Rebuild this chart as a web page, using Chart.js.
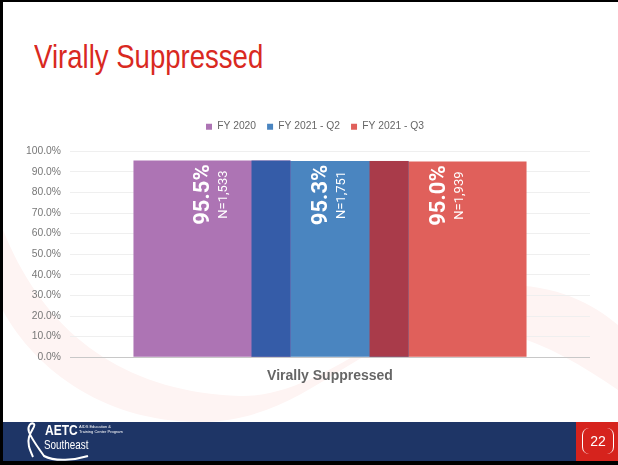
<!DOCTYPE html>
<html>
<head>
<meta charset="utf-8">
<script src="https://cdn.jsdelivr.net/npm/chart.js@4/dist/chart.umd.min.js"></script>
<style>
  html, body { margin: 0; padding: 0; }
  body { width: 618px; height: 465px; position: relative; overflow: hidden; background: #fff; font-family: "Liberation Sans", Arial, sans-serif; }
  .frame-top { position: absolute; left: 0; top: 0; width: 618px; height: 2px; background: #000; }
  .frame-left { position: absolute; left: 0; top: 0; width: 3px; height: 465px; background: #000; }
  .frame-bottom { position: absolute; left: 0; top: 461px; width: 618px; height: 4px; background: #000; }
  .swoosh { position: absolute; left: 0; top: 0; }
  .title { position: absolute; left: 34px; top: 38px; color: #d9291f; font-size: 33px; white-space: nowrap; transform: scaleX(0.835); transform-origin: 0 0; }
  #wrap { position: absolute; left: 0; top: 0; width: 618px; height: 465px; }
  .footer { position: absolute; left: 3px; top: 422px; width: 573px; height: 39px; background: #1e3566; }
  .page { position: absolute; left: 576px; top: 422px; width: 42px; height: 39px; background: #d6231d; }
  .page span { position: absolute; left: 6px; top: 6px; width: 30px; height: 26px; border: 1px solid #fff; border-top: none; border-bottom: none; border-radius: 7px; color: #fff; font-size: 14px; line-height: 26px; text-align: center; }
  .aetc { position: absolute; left: 45px; top: 421px; color: #fff; font-weight: bold; font-size: 15px; transform: scaleX(0.8); transform-origin: 0 0; }
  .small { position: absolute; left: 79px; top: 424px; color: #fff; font-size: 4px; line-height: 5px; }
  .southeast { position: absolute; left: 44px; top: 437px; color: #fff; font-size: 13px; transform: scaleX(0.76); transform-origin: 0 0; }
</style>
</head>
<body>
<svg class="swoosh" width="618" height="465">
  <path d="M0 222 C40 330 120 392 240 396 C330 398 420 292 500 286 C560 282 600 310 618 325 L618 390 C560 350 500 318 430 330 C350 345 300 422 200 422 C100 422 30 365 0 305 Z" fill="#fef4f3"/>
</svg>
<div class="title">Virally Suppressed</div>
<div id="wrap"><canvas id="chart" width="618" height="465"></canvas></div>
<div class="footer"></div>
<svg class="swoosh" width="618" height="465">
  <path d="M33 457 C30 450 27 444 29 437 C31 430 36 426 34 424 C31 422 27 426 29 432 C32 440 40 450 44 456 C55 462 75 460 88 456" stroke="#fff" stroke-width="2" fill="none"/>
</svg>
<div class="aetc">AETC</div>
<div class="small">AIDS Education &amp;<br>Training Center Program</div>
<div class="southeast">Southeast</div>
<div class="page"><span>22</span></div>
<div class="frame-top"></div>
<div class="frame-left"></div>
<div class="frame-bottom"></div>
<script>
const categories = ['Virally Suppressed'];
const seriesNames = ['FY 2020', 'FY 2021 - Q2', 'FY 2021 - Q3'];
const fy2020 = [95.5];
const fy2021q2 = [95.3];
const fy2021q3 = [95.0];
const counts = ['N=1,533', 'N=1,751', 'N=1,939'];

const barColors = ['#ad74b4', '#4a85c0', '#e0605b'];
const overlapColors = ['#355ca8', '#a93b4a'];

// let the y tick labels use the space left of the axis box (no clipping)
const axisRoomPlugin = {
    id: 'axisRoom',
    afterLayout(chart) {
        chart.scales.y.left = 15;
    }
};

// darker strip where two neighbouring bars overlap
const overlapPlugin = {
    id: 'overlap',
    afterDatasetsDraw(chart) {
        const ctx = chart.ctx;
        for (let i = 1; i < chart.data.datasets.length; i++) {
            const a = chart.getDatasetMeta(i - 1).data[0];
            const b = chart.getDatasetMeta(i).data[0];
            const left = b.x - b.width / 2;
            const right = a.x + a.width / 2;
            const top = Math.min(a.y, b.y);
            ctx.save();
            ctx.fillStyle = overlapColors[i - 1];
            ctx.fillRect(left, top, right - left, a.base - top);
            ctx.restore();
        }
    }
};

// rotated value labels inside each bar
const labelPlugin = {
    id: 'barLabels',
    afterDatasetsDraw(chart) {
        const ctx = chart.ctx;
        chart.data.datasets.forEach((ds, i) => {
            const bar = chart.getDatasetMeta(i).data[0];
            ctx.save();
            ctx.translate(bar.x, bar.y + 34);
            ctx.rotate(-Math.PI / 2);
            ctx.fillStyle = '#fff';
            ctx.textAlign = 'center';
            ctx.textBaseline = 'middle';
            ctx.font = 'bold 22px Roboto';
            ctx.fillText(ds.data[0].toFixed(1) + '%', 0, -8.5);
            ctx.font = '13px Roboto';
            ctx.fillText(counts[i], 0, 12);
            ctx.restore();
        });
    }
};

new Chart(document.getElementById('chart'), {
    type: 'bar',
    data: {
        labels: categories,
        datasets: [
            {label: seriesNames[0], data: fy2020, backgroundColor: barColors[0]},
            {label: seriesNames[1], data: fy2021q2, backgroundColor: barColors[1]},
            {label: seriesNames[2], data: fy2021q3, backgroundColor: barColors[2]}
        ]
    },
    options: {
        responsive: false,
        animation: false,
        layout: {padding: {left: 40, right: 28, top: 110.5, bottom: 78}},
        datasets: {bar: {barPercentage: 1.33, categoryPercentage: 0.681}},
        plugins: {
            legend: {
                position: 'top',
                labels: {boxWidth: 6, boxHeight: 6, padding: 11, color: '#666', font: {family: 'Liberation Sans', size: 10.3}}
            },
            tooltip: {enabled: false}
        },
        scales: {
            x: {
                grid: {display: false},
                border: {display: false},
                ticks: {color: '#666', padding: 2.5, font: {family: 'Liberation Sans', size: 14, weight: 'bold'}}
            },
            // empty box: gap between legend and plot
            spacer: {
                type: 'linear',
                position: 'top',
                axis: 'x',
                afterFit: (scale) => { scale.height = 9.5; },
                grid: {display: false},
                border: {display: false},
                ticks: {display: false}
            },
            y: {
                min: 0,
                max: 100,
                afterFit: (scale) => { scale.width = 30; },
                border: {display: false},
                grid: {drawTicks: false, color: (c) => c.index === 0 ? '#c8c8c8' : '#efefef'},
                ticks: {stepSize: 10, padding: 9, color: '#777', font: {family: 'Liberation Sans', size: 10.3}, callback: (v) => v.toFixed(1) + '%'}
            }
        }
    },
    plugins: [axisRoomPlugin, overlapPlugin, labelPlugin]
});
</script>
</body>
</html>
